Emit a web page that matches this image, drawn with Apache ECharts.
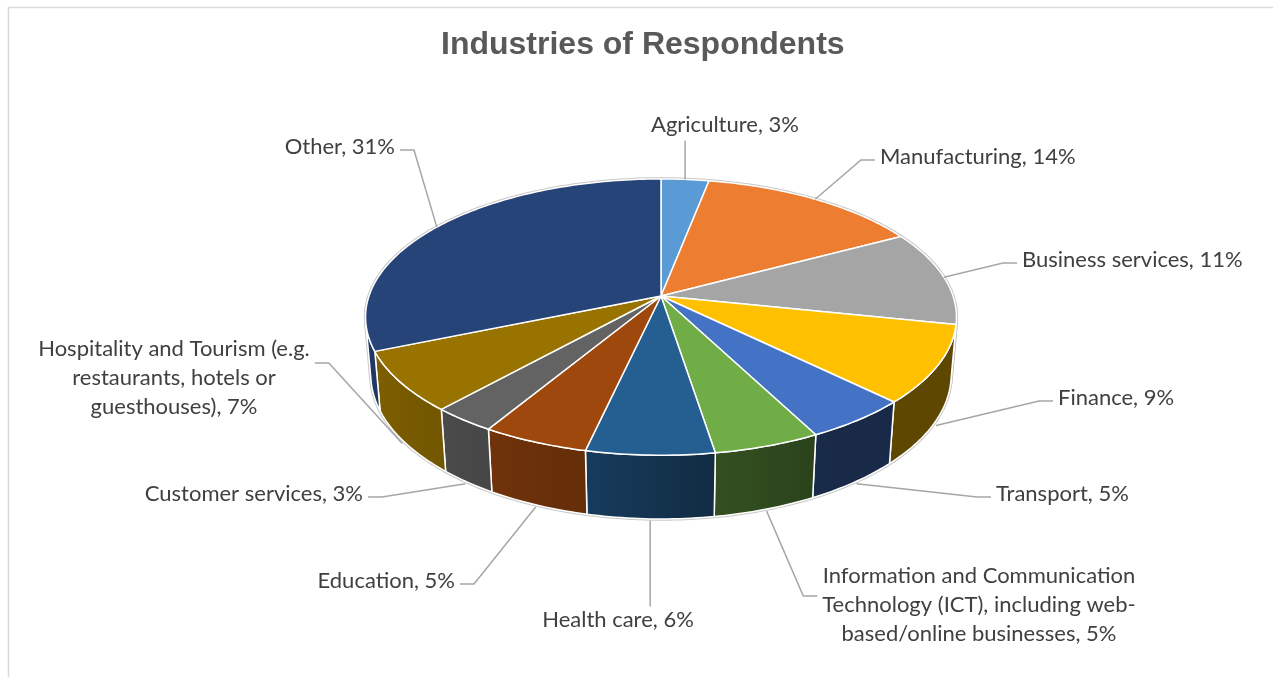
<!DOCTYPE html>
<html>
<head>
<meta charset="utf-8">
<script src="https://cdn.jsdelivr.net/npm/echarts@6/dist/echarts.min.js"></script>
<style>
  html, body { margin: 0; padding: 0; background: #ffffff; }
  #chart { width: 1273px; height: 677px; }
</style>
</head>
<body>
<div id="chart"></div>
<script>
// ---- data ----
const categories = [
  'Agriculture',
  'Manufacturing',
  'Business services',
  'Finance',
  'Transport',
  'Information and Communication Technology (ICT), including web-based/online businesses',
  'Health care',
  'Education',
  'Customer services',
  'Hospitality and Tourism (e.g. restaurants, hotels or guesthouses)',
  'Other'
];
const shares = [3, 14, 11, 9, 5, 5, 6, 5, 3, 7, 31];

// ---- styling ----
const sliceColors = ['#5B9BD5', '#ED7D31', '#A5A5A5', '#FFC000', '#4472C4', '#70AD47',
                     '#255E91', '#9E480E', '#636363', '#997300', '#264478'];

// label placement: text anchor (x, y = vertical centre of the block), alignment,
// side where the leader line meets the label, optional wrap width and offset
const labelLayout = [
  { x: 651,  y: 125, align: 'left',   attach: 'bottom' },
  { x: 880,  y: 157, align: 'left',   attach: 'left' },
  { x: 1022, y: 260, align: 'left',   attach: 'left' },
  { x: 1058, y: 398, align: 'left',   attach: 'left' },
  { x: 996,  y: 494, align: 'left',   attach: 'left' },
  { x: 979,  y: 605, align: 'center', attach: 'left', wrap: 340, dy: -12 },
  { x: 618,  y: 620, align: 'center', attach: 'top' },
  { x: 455,  y: 581, align: 'right',  attach: 'right' },
  { x: 363,  y: 494, align: 'right',  attach: 'right' },
  { x: 174,  y: 378, align: 'center', attach: 'right', wrap: 300, dy: -18 },
  { x: 395,  y: 147, align: 'right',  attach: 'right' }
];

const LABEL_FONT_SIZE = 22;
const LABEL_FONT = 'Lato';
const LINE_HEIGHT = 29;

// ---- 3D disc geometry (perspective projection of a tilted cylinder) ----
const geo = {
  cx: 661, cy: 296,     // projected centre of the top face
  k: 292,               // radius in pixels
  tilt: Math.asin(0.462),
  dist: 5.81,           // camera distance in radii
  depth: 0.224          // thickness in radii
};
const sinT = Math.sin(geo.tilt), cosT = Math.cos(geo.tilt);

// theta: clockwise from the far side (12 o'clock); h: 0 on top, -depth at bottom
function project(theta, h, r) {
  r = r == null ? 1 : r;
  const x = r * Math.sin(theta), z = r * Math.cos(theta);
  const up = h * cosT + z * sinT;
  const zd = z * cosT - h * sinT;
  const s = 1 / (1 + zd / geo.dist);
  return [geo.cx + geo.k * x * s, geo.cy - geo.k * up * s];
}

// range of the outer wall that faces the viewer
const wallLimit = Math.acos(-1 / (geo.dist * cosT));
const visFrom = wallLimit, visTo = 2 * Math.PI - wallLimit;

const total = shares.reduce((a, b) => a + b, 0);
const startAngles = [], endAngles = [];
shares.reduce((acc, v) => {
  startAngles.push(acc / total * 2 * Math.PI);
  endAngles.push((acc + v) / total * 2 * Math.PI);
  return acc + v;
}, 0);

// wall brightness by angle (light from the front-left)
const shadeStops = [[100, 0.37], [150, 0.37], [171, 0.465], [193, 0.635],
                    [211, 0.71], [222, 0.75], [247, 0.82], [262, 0.84]];
function shadeAt(theta) {
  const d = theta * 180 / Math.PI;
  if (d <= shadeStops[0][0]) return shadeStops[0][1];
  for (let i = 1; i < shadeStops.length; i++) {
    if (d <= shadeStops[i][0]) {
      const [d0, f0] = shadeStops[i - 1], [d1, f1] = shadeStops[i];
      return f0 + (f1 - f0) * (d - d0) / (d1 - d0);
    }
  }
  return shadeStops[shadeStops.length - 1][1];
}
function darken(hex, f) {
  const n = parseInt(hex.slice(1), 16);
  const r = Math.round(((n >> 16) & 255) * f);
  const g = Math.round(((n >> 8) & 255) * f);
  const b = Math.round((n & 255) * f);
  return 'rgb(' + r + ',' + g + ',' + b + ')';
}

function arc(a0, a1, h, r) {
  const pts = [];
  const steps = Math.max(2, Math.ceil((a1 - a0) / (Math.PI / 180)));
  for (let s = 0; s <= steps; s++) pts.push(project(a0 + (a1 - a0) * s / steps, h, r));
  return pts;
}

// ---- label text wrapping ----
const measureCtx = document.createElement('canvas').getContext('2d');
measureCtx.font = LABEL_FONT_SIZE + 'px ' + LABEL_FONT;
function textWidth(t) { return measureCtx.measureText(t).width; }
function wrapText(text, maxW) {
  if (!maxW) return [text];
  const tokens = text.split(/(?<=[ \-])/);
  const lines = [];
  let cur = '';
  tokens.forEach(tok => {
    if (cur && textWidth((cur + tok).trimEnd()) > maxW) {
      lines.push(cur.trimEnd());
      cur = tok;
    } else {
      cur += tok;
    }
  });
  if (cur) lines.push(cur.trimEnd());
  return lines;
}

function renderSlice(params, api) {
  const i = params.dataIndex;
  const a0 = startAngles[i], a1 = endAngles[i];
  const base = sliceColors[i];
  const children = [];

  // top face
  const topPts = [[geo.cx, geo.cy]].concat(arc(a0, a1, 0));
  children.push({ type: 'polygon', z2: 5, shape: { points: topPts },
    style: { fill: 'none', stroke: '#c9c9c9', lineWidth: 3.5, lineJoin: 'round' } });
  children.push({ type: 'polygon', z2: 20, shape: { points: topPts },
    style: { fill: base, stroke: '#ffffff', lineWidth: 1.5, lineJoin: 'round' } });

  // outer wall, front part only
  const w0 = Math.max(a0, visFrom), w1 = Math.min(a1, visTo);
  if (w1 > w0) {
    const upper = arc(w0, w1, 0);
    const lower = arc(w0, w1, -geo.depth).reverse();
    const wallPts = upper.concat(lower);
    const xs = wallPts.map(p => p[0]);
    const xMin = Math.min.apply(null, xs), xMax = Math.max.apply(null, xs);
    const stops = [];
    for (let s = 0; s <= 6; s++) {
      const th = w0 + (w1 - w0) * s / 6;
      const px = project(th, -geo.depth / 2)[0];
      stops.push({ offset: Math.min(1, Math.max(0, (px - xMin) / Math.max(1, xMax - xMin))),
                   color: darken(base, shadeAt(th)) });
    }
    stops.sort((p, q) => p.offset - q.offset);
    children.push({ type: 'polygon', z2: 5, shape: { points: wallPts },
      style: { fill: 'none', stroke: '#c9c9c9', lineWidth: 3.5, lineJoin: 'round' } });
    children.push({ type: 'polygon', z2: 10, shape: { points: wallPts },
      style: { fill: new echarts.graphic.LinearGradient(xMin, 0, xMax, 0, stops, true),
               stroke: '#ffffff', lineWidth: 1.5, lineJoin: 'round' } });
  }

  // data label with leader line
  const lay = labelLayout[i];
  const mid = (a0 + a1) / 2;
  const onWall = mid > visFrom && mid < visTo;
  const anchor = onWall ? project(mid, -geo.depth, 1.01) : project(mid, 0, 1.0);
  const lines = wrapText(categories[i] + ', ' + api.value(0) + '%', lay.wrap);
  const blockW = Math.max.apply(null, lines.map(textWidth));
  const blockH = lines.length * LINE_HEIGHT;
  let left = lay.x;
  if (lay.align === 'center') left = lay.x - blockW / 2;
  else if (lay.align === 'right') left = lay.x - blockW;
  const right = left + blockW;
  const ey = lay.y + 3 + (lay.dy || 0);
  let leader;
  if (lay.attach === 'left') {
    leader = [anchor, [left - 19, ey], [left - 5, ey]];
  } else if (lay.attach === 'right') {
    leader = [anchor, [right + 19, ey], [right + 5, ey]];
  } else if (lay.attach === 'bottom') {
    leader = [anchor, [anchor[0], lay.y + blockH / 2 + 1]];
  } else {
    leader = [anchor, [anchor[0], lay.y - blockH / 2 + 1]];
  }
  children.push({ type: 'polyline', z2: 30, shape: { points: leader },
    style: { fill: 'none', stroke: '#a6a6a6', lineWidth: 1.5 } });
  children.push({ type: 'text', z2: 31,
    style: { x: lay.x, y: lay.y, text: lines.join('\n'), align: lay.align, verticalAlign: 'middle',
             fill: '#404040', font: LABEL_FONT_SIZE + 'px ' + LABEL_FONT, lineHeight: LINE_HEIGHT } });

  return { type: 'group', children: children };
}

const chart = echarts.init(document.getElementById('chart'), null, { renderer: 'canvas' });
chart.setOption({
  animation: false,
  backgroundColor: '#ffffff',
  title: {
    text: 'Industries of Respondents',
    left: 441, top: 29, padding: 0,
    textStyle: { fontFamily: 'Liberation Sans', fontWeight: 'bold', fontSize: 32, color: '#595959' }
  },
  graphic: [{
    type: 'rect', silent: true, z: -10,
    shape: { x: 8.5, y: 7.5, width: 1400, height: 800 },
    style: { fill: 'none', stroke: '#d9d9d9', lineWidth: 1.5 }
  }],
  series: [{
    type: 'custom',
    coordinateSystem: 'none',
    silent: true,
    data: shares,
    renderItem: renderSlice
  }]
});
</script>
</body>
</html>
